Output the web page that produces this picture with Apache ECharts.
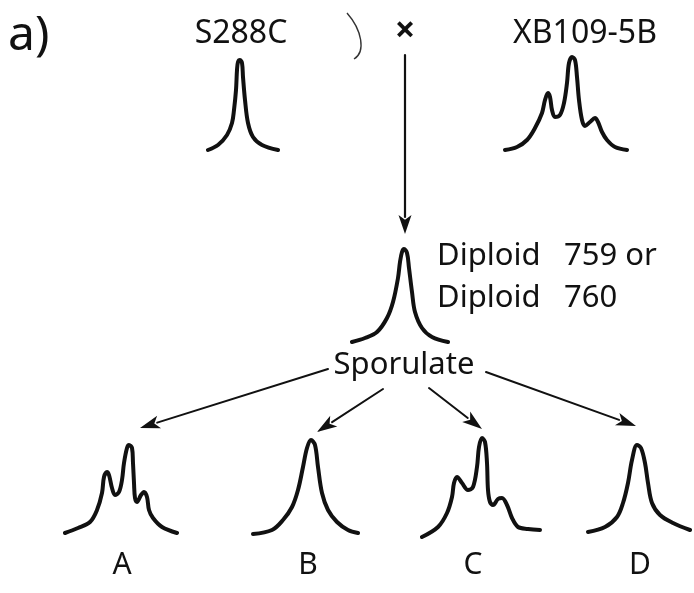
<!DOCTYPE html>
<html>
<head>
<meta charset="utf-8">
<title>Sporulation cross</title>
<script src="https://cdn.jsdelivr.net/npm/echarts@6/dist/echarts.min.js"></script>
<style>
  html, body { margin: 0; padding: 0; background: #ffffff; }
  #chart { width: 694px; height: 593px; }
</style>
</head>
<body>
<div id="chart"></div>
<script>
// Densitometer profiles: [position along scan, relative absorbance]
const traceS288C = [[0,1],[10,6],[19,16],[24,28],[26,41],[28,61],[29,81],[30,89],[32,91],[34,88],[35,74],[37,51],[40,28],[45,14],[54,6],[70,1]];
const traceXB109 = [[0,1],[12,4],[22,11],[30,23],[37,38],[40,51],[43,58],[45,54],[47,41],[50,34],[55,36],[59,48],[62,68],[64,88],[67,94],[70,91],[72,74],[74,51],[77,31],[80,25],[85,29],[90,33],[93,29],[97,19],[102,11],[110,4],[122,1]];
const traceDiploid = [[0,1],[13,5],[25,11],[35,25],[41,41],[46,65],[48,81],[50,91],[52,94],[55,90],[57,75],[60,51],[63,31],[70,15],[80,6],[96,1]];
const traceA = [[0,1],[13,6],[25,12],[32,24],[37,41],[39,57],[42,62],[44,59],[47,46],[50,39],[54,42],[57,54],[59,71],[62,86],[64,89],[67,86],[68,71],[69,51],[70,36],[72,32],[76,39],[79,42],[82,37],[84,24],[88,16],[97,7],[112,1]];
const traceB = [[0,1],[19,5],[30,15],[39,28],[45,45],[50,68],[54,87],[58,95],[62,90],[65,68],[69,42],[75,25],[84,13],[95,5],[105,2]];
const traceC = [[0,1],[16,11],[25,25],[30,41],[32,55],[35,61],[40,55],[46,48],[51,51],[55,71],[57,91],[60,100],[63,96],[65,75],[66,48],[68,36],[71,33],[76,39],[80,40],[85,33],[90,20],[96,11],[106,9],[118,8]];
const traceD = [[0,1],[17,6],[29,16],[35,30],[40,50],[44,73],[49,88],[53,85],[57,70],[60,50],[64,30],[72,18],[85,10],[102,3]];

// Text
const panelLabel = 'a)';
const parentNames = ['S288C', 'XB109-5B'];
const crossSign = '×';
const diploidLines = [['Diploid', '759 or'], ['Diploid', '760']];
const stepLabel = 'Sporulate';
const sporeNames = ['A', 'B', 'C', 'D'];

// Layout: where each profile panel sits (left, baseline, width in px; 100 units tall)
const panels = [
  { data: traceS288C,   left: 208, base: 151 },
  { data: traceXB109,   left: 505, base: 151 },
  { data: traceDiploid, left: 352, base: 343 },
  { data: traceA,       left: 65,  base: 534 },
  { data: traceB,       left: 253, base: 535 },
  { data: traceC,       left: 422, base: 538 },
  { data: traceD,       left: 588, base: 533 }
];
const PANEL_H = 100;

const INK = '#111111';
const FONT = '"Noto Sans", "DejaVu Sans", sans-serif';

const grids = [], xAxes = [], yAxes = [], series = [];
panels.forEach((p, i) => {
  const w = p.data[p.data.length - 1][0];
  grids.push({ left: p.left, top: p.base - PANEL_H, width: w, height: PANEL_H, containLabel: false, show: false });
  xAxes.push({ type: 'value', gridIndex: i, min: 0, max: w, show: false });
  yAxes.push({ type: 'value', gridIndex: i, min: 0, max: PANEL_H, show: false });
  series.push({
    type: 'line', xAxisIndex: i, yAxisIndex: i, data: p.data,
    smooth: 0.35, showSymbol: false, clip: false, silent: true,
    lineStyle: { color: INK, width: 4, cap: 'round', join: 'round' }
  });
});

// Arrow helpers
function arrow(x1, y1, x2, y2, headLen, headW, lw) {
  const dx = x2 - x1, dy = y2 - y1, L = Math.hypot(dx, dy);
  const ux = dx / L, uy = dy / L, nx = -uy, ny = ux;
  const bx = x2 - ux * headLen, by = y2 - uy * headLen;
  return [
    { type: 'line', shape: { x1: x1, y1: y1, x2: bx + ux * 2, y2: by + uy * 2 },
      style: { stroke: INK, lineWidth: lw, lineCap: 'round' }, silent: true },
    { type: 'polygon',
      shape: { points: [[x2, y2], [bx + nx * headW / 2, by + ny * headW / 2], [x2 - ux * headLen * 0.75, y2 - uy * headLen * 0.75], [bx - nx * headW / 2, by - ny * headW / 2]] },
      style: { fill: INK }, silent: true }
  ];
}
function label(text, x, y, size, align, weight) {
  return { type: 'text', x: x, y: y, silent: true,
    style: { text: text, font: (weight || 'normal') + ' ' + size + 'px ' + FONT, fill: INK, textAlign: align || 'left', textVerticalAlign: 'middle' } };
}

const graphics = [
  label(panelLabel, 8, 36, 48),
  label(parentNames[0], 241, 34, 32, 'center'),
  label(parentNames[1], 585, 34, 32, 'center'),
  label(crossSign, 405, 32, 36, 'center', 'bold'),
  // pencil mark beside the cross sign
  { type: 'bezierCurve', silent: true,
    shape: { x1: 347, y1: 13, cpx1: 362, cpy1: 30, cpx2: 366, cpy2: 52, x2: 354, y2: 59 },
    style: { stroke: '#333', lineWidth: 1.4, fill: null } },
  label(diploidLines[0][0], 437, 256, 31),
  label(diploidLines[0][1], 564, 256, 31),
  label(diploidLines[1][0], 437, 298, 31),
  label(diploidLines[1][1], 564, 298, 31),
  label(stepLabel, 404, 365, 31, 'center')
];
const sporeX = [122, 308, 473, 640];
sporeNames.forEach((s, i) => graphics.push(label(s, sporeX[i], 565, 30, 'center')));

graphics.push(...arrow(405, 55, 405, 234, 19, 13, 2.2));
graphics.push(...arrow(328, 369, 140, 428, 20, 13, 2));
graphics.push(...arrow(383, 389, 317, 432, 20, 13, 2));
graphics.push(...arrow(429, 388, 482, 429, 20, 13, 2));
graphics.push(...arrow(486, 372, 636, 426, 20, 13, 2));

const chart = echarts.init(document.getElementById('chart'), null, { renderer: 'canvas' });
chart.setOption({
  backgroundColor: '#ffffff',
  animation: false,
  grid: grids,
  xAxis: xAxes,
  yAxis: yAxes,
  series: series,
  graphic: graphics
});
</script>
</body>
</html>
